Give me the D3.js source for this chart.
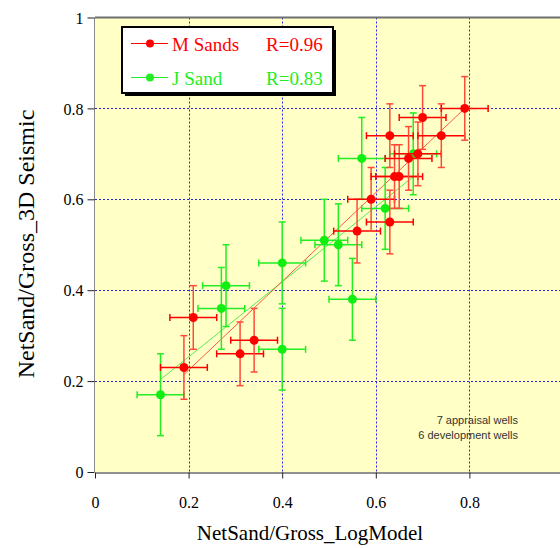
<!DOCTYPE html>
<html>
<head>
<meta charset="utf-8">
<script src="https://cdn.jsdelivr.net/npm/d3@7"></script>
<style>
  body { margin: 0; background: #fff; }
  svg { display: block; }
</style>
</head>
<body>
<svg width="560" height="548"></svg>
<script>
// M Sands wells (red)
var mSandX = [0.19, 0.21, 0.31, 0.34, 0.56, 0.59, 0.63, 0.64, 0.65, 0.63, 0.67, 0.69, 0.70, 0.74, 0.79];
var mSandY = [0.23, 0.34, 0.26, 0.29, 0.53, 0.60, 0.55, 0.65, 0.65, 0.74, 0.69, 0.70, 0.78, 0.74, 0.80];
// J Sand wells (green)
var jSandX = [0.14, 0.27, 0.28, 0.40, 0.40, 0.49, 0.52, 0.55, 0.57, 0.62, 0.68];
var jSandY = [0.17, 0.36, 0.41, 0.27, 0.46, 0.51, 0.50, 0.38, 0.69, 0.58, 0.70];
// error bar half widths
var mSandErr = [0.05, 0.07];
var jSandErr = [0.05, 0.09];
// trend lines: [slope, intercept]
var mSandFit = [0.976, 0.029];
var jSandFit = [0.826, 0.088];
var seriesNames = ["M Sands", "J Sand"];
var seriesR = ["R=0.96", "R=0.83"];
var tickValues = [0, 0.2, 0.4, 0.6, 0.8, 1];
var gridValues = [0.2, 0.4, 0.6, 0.8];

function main() {
    var svg = d3.select("svg");
    var red = "#ff0000", redBar = "#ff4a3a", green = "#22ee22";

    var x = d3.scaleLinear().domain([0, 1]).range([95, 563]),
        y = d3.scaleLinear().domain([0, 1]).range([472, 17.5]);

    // plot area
    svg.append("rect")
        .attr("x", x(0)).attr("y", y(1))
        .attr("width", x(1) - x(0)).attr("height", y(0) - y(1))
        .attr("fill", "#ffffc6");

    // dotted grid
    var grid = svg.append("g").attr("stroke", "#2626e6").attr("stroke-width", 1)
        .attr("stroke-dasharray", "2,2");
    grid.selectAll(".vg").data(gridValues).enter().append("line")
        .attr("x1", function(d) { return Math.round(x(d)) + 0.5; })
        .attr("x2", function(d) { return Math.round(x(d)) + 0.5; })
        .attr("y1", y(1)).attr("y2", y(0));
    grid.selectAll(".hg").data(gridValues).enter().append("line")
        .attr("y1", function(d) { return Math.round(y(d)) + 0.5; })
        .attr("y2", function(d) { return Math.round(y(d)) + 0.5; })
        .attr("x1", x(0)).attr("x2", x(1));

    // border lines
    svg.append("line").attr("x1", x(0)).attr("x2", 560).attr("y1", y(1)).attr("y2", y(1))
        .attr("stroke", "#6e6e6e").attr("stroke-width", 2);
    svg.append("line").attr("x1", x(0) - 0.5).attr("x2", x(0) - 0.5).attr("y1", y(1)).attr("y2", y(0))
        .attr("stroke", "#8a8a8a").attr("stroke-width", 1);

    // axes
    var fmt = function(d) { return String(+d.toFixed(1)); };
    var xAxis = svg.append("g")
        .attr("transform", "translate(0," + (y(0) + 0.5) + ")")
        .call(d3.axisBottom(x).tickValues(tickValues).tickSize(6).tickSizeOuter(0).tickFormat(fmt));
    xAxis.select(".domain").attr("stroke", "#222");
    xAxis.selectAll(".tick line").attr("stroke", "#222");
    xAxis.selectAll("text").attr("y", 35).attr("dy", 0)
        .attr("font-family", "Liberation Serif").attr("font-size", "16px").attr("fill", "#000");

    var yAxis = svg.append("g")
        .attr("transform", "translate(" + (x(0) - 0.5) + ",0)")
        .call(d3.axisLeft(y).tickValues(tickValues).tickSize(7).tickSizeOuter(0).tickFormat(fmt));
    yAxis.select(".domain").remove();
    yAxis.selectAll(".tick line").attr("stroke", "#222");
    yAxis.selectAll("text").attr("x", -11).attr("dy", "0.35em")
        .attr("font-family", "Liberation Serif").attr("font-size", "16px").attr("fill", "#000");

    // axis titles
    svg.append("text")
        .attr("x", 310).attr("y", 540)
        .attr("text-anchor", "middle")
        .attr("font-family", "Liberation Serif").attr("font-size", "21px")
        .text("NetSand/Gross_LogModel");
    svg.append("text")
        .attr("transform", "translate(34,244) rotate(-90)")
        .attr("text-anchor", "middle")
        .attr("font-family", "Liberation Serif").attr("font-size", "24px")
        .text("NetSand/Gross_3D Seismic");

    // trend lines
    function trend(xs, fit, color) {
        var x0 = d3.min(xs), x1 = d3.max(xs);
        svg.append("line")
            .attr("x1", x(x0)).attr("y1", y(fit[0] * x0 + fit[1]))
            .attr("x2", x(x1)).attr("y2", y(fit[0] * x1 + fit[1]))
            .attr("stroke", color).attr("stroke-width", 1);
    }
    trend(jSandX, jSandFit, "#55ee55");
    trend(mSandX, mSandFit, "#ff5a40");

    // error bars + markers
    function series(xs, ys, err, hColor, vColor, dotColor) {
        var data = xs.map(function(v, i) { return { x: v, y: ys[i] }; });
        var g = svg.append("g");
        var pts = g.selectAll("g").data(data).enter().append("g");
        pts.append("line")
            .attr("x1", function(d) { return x(d.x - err[0]); })
            .attr("x2", function(d) { return x(d.x + err[0]); })
            .attr("y1", function(d) { return y(d.y); })
            .attr("y2", function(d) { return y(d.y); })
            .attr("stroke", hColor).attr("stroke-width", 1.5);
        pts.append("line")
            .attr("x1", function(d) { return x(d.x); })
            .attr("x2", function(d) { return x(d.x); })
            .attr("y1", function(d) { return y(d.y - err[1]); })
            .attr("y2", function(d) { return y(d.y + err[1]); })
            .attr("stroke", vColor).attr("stroke-width", 1.5);
        // caps
        [-1, 1].forEach(function(s) {
            pts.append("line")
                .attr("x1", function(d) { return x(d.x + s * err[0]); })
                .attr("x2", function(d) { return x(d.x + s * err[0]); })
                .attr("y1", function(d) { return y(d.y) - 3.5; })
                .attr("y2", function(d) { return y(d.y) + 3.5; })
                .attr("stroke", hColor).attr("stroke-width", 1.5);
            pts.append("line")
                .attr("y1", function(d) { return y(d.y + s * err[1]); })
                .attr("y2", function(d) { return y(d.y + s * err[1]); })
                .attr("x1", function(d) { return x(d.x) - 3.5; })
                .attr("x2", function(d) { return x(d.x) + 3.5; })
                .attr("stroke", vColor).attr("stroke-width", 1.5);
        });
        g.selectAll("circle").data(data).enter().append("circle")
            .attr("cx", function(d) { return x(d.x); })
            .attr("cy", function(d) { return y(d.y); })
            .attr("r", 4.5)
            .attr("fill", dotColor);
    }
    series(jSandX, jSandY, jSandErr, green, green, "#11ee11");
    series(mSandX, mSandY, mSandErr, red, redBar, red);

    // legend
    var lg = svg.append("g");
    lg.append("rect").attr("x", 125).attr("y", 30).attr("width", 211).attr("height", 66).attr("fill", "#000");
    lg.append("rect").attr("x", 122).attr("y", 27).attr("width", 211).attr("height", 66)
        .attr("fill", "#fff").attr("stroke", "#000").attr("stroke-width", 2);
    var colors = [red, green];
    var rows = [43.5, 77.5];
    seriesNames.forEach(function(name, i) {
        lg.append("line").attr("x1", 131).attr("x2", 168).attr("y1", rows[i]).attr("y2", rows[i])
            .attr("stroke", colors[i]).attr("stroke-width", 1);
        lg.append("circle").attr("cx", 150).attr("cy", rows[i]).attr("r", 4).attr("fill", colors[i]);
        lg.append("text").attr("x", 172).attr("y", rows[i] + 7)
            .attr("font-family", "Liberation Serif").attr("font-size", "19px").attr("fill", colors[i])
            .text(name);
        lg.append("text").attr("x", 266).attr("y", rows[i] + 7)
            .attr("font-family", "Liberation Serif").attr("font-size", "19px").attr("fill", colors[i])
            .text(seriesR[i]);
    });

    // note
    var note = svg.append("g").attr("font-family", "Liberation Sans").attr("font-size", "11px")
        .attr("fill", "#333").attr("text-anchor", "end");
    note.append("text").attr("x", 518).attr("y", 424).text("7 appraisal wells");
    note.append("text").attr("x", 518).attr("y", 439).text("6 development wells");
}
main();
</script>
</body>
</html>
